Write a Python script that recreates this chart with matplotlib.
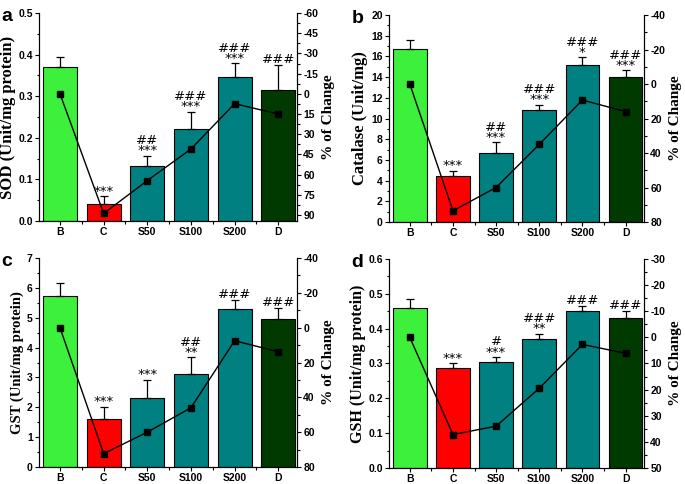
import numpy as np
import matplotlib
matplotlib.use("Agg")
import matplotlib.pyplot as plt
from matplotlib.ticker import MultipleLocator, FormatStrFormatter

plt.rcParams["axes.unicode_minus"] = False

groups = ["B", "C", "S50", "S100", "S200", "D"]
colors = ["#3cf03c", "#ff0000", "#008080", "#008080", "#008080", "#003a00"]

# panel a - SOD
sod = [0.37, 0.042, 0.133, 0.22, 0.345, 0.315]
sod_err = [0.024, 0.017, 0.023, 0.042, 0.034, 0.06]
sod_pct = [0, 88.8, 64.4, 41, 7.3, 15]
sod_marks = ["", "***", "##\n***", "###\n***", "###\n***", "###"]

# panel b - Catalase
cat = [16.7, 4.45, 6.7, 10.85, 15.15, 14.0]
cat_err = [0.9, 0.5, 1.0, 0.5, 0.75, 0.65]
cat_pct = [0, 73.5, 60, 35, 9.3, 16]
cat_marks = ["", "***", "##\n***", "###\n***", "###\n*", "###\n***"]

# panel c - GST
gst = [5.72, 1.6, 2.3, 3.1, 5.3, 4.95]
gst_err = [0.45, 0.42, 0.63, 0.57, 0.3, 0.38]
gst_pct = [0, 72.3, 60, 46, 7.5, 13.8]
gst_marks = ["", "***", "***", "##\n**", "###", "###"]

# panel d - GSH
gsh = [0.46, 0.288, 0.305, 0.37, 0.45, 0.432]
gsh_err = [0.025, 0.013, 0.013, 0.015, 0.015, 0.02]
gsh_pct = [0, 37.2, 34, 19.5, 2.7, 6.1]
gsh_marks = ["", "***", "#\n***", "###\n**", "###", "###"]

panels = [
    dict(letter="a", vals=sod, err=sod_err, pct=sod_pct, marks=sod_marks,
         ylabel="SOD (Unit/mg protein)", lsize=12, ylim=(0, 0.5), major=0.1, minor=0.05,
         rlim=(94.4, -60), rmajor=15, rminor=7.5, fmt="%.1f",
         pos=[0.057, 0.5434, 0.3766, 0.4297]),
    dict(letter="b", vals=cat, err=cat_err, pct=cat_pct, marks=cat_marks,
         ylabel="Catalase (Unit/mg)", lsize=12, ylim=(0, 20), major=2, minor=1,
         rlim=(80, -40), rmajor=20, rminor=10, fmt="%d",
         pos=[0.568, 0.5413, 0.3723, 0.4277]),
    dict(letter="c", vals=gst, err=gst_err, pct=gst_pct, marks=gst_marks,
         ylabel="GST (Unit/mg protein)", lsize=10.5, ylim=(0, 7), major=1, minor=0.5,
         rlim=(80, -40), rmajor=20, rminor=10, fmt="%d",
         pos=[0.057, 0.0351, 0.3766, 0.4318]),
    dict(letter="d", vals=gsh, err=gsh_err, pct=gsh_pct, marks=gsh_marks,
         ylabel="GSH (Unit/mg protein)", lsize=11.5, ylim=(0, 0.6), major=0.1, minor=0.05,
         rlim=(50, -30), rmajor=10, rminor=5, fmt="%.1f",
         pos=[0.568, 0.0331, 0.3723, 0.4318]),
]

fig = plt.figure(figsize=(6.85, 4.84), dpi=100)
x = np.arange(len(groups))

for p in panels:
    ax = fig.add_axes(p["pos"])
    ax.bar(x, p["vals"], width=0.78, color=colors, edgecolor="black", linewidth=0.8, zorder=2)
    ax.errorbar(x, p["vals"], yerr=[np.zeros(len(x)), p["err"]], fmt="none",
                ecolor="black", elinewidth=0.9, capsize=3, capthick=0.9, zorder=3)
    top = np.array(p["vals"]) + np.array(p["err"])
    for xi, yi, m in zip(x, top, p["marks"]):
        if m:
            ax.annotate(m, (xi, yi), xytext=(0, -1), textcoords="offset points",
                        ha="center", va="bottom", fontsize=9.5, linespacing=0.72,
                        family="DejaVu Sans")
    ax.set_xlim(-0.48, 5.43)
    ax.set_ylim(*p["ylim"])
    ax.set_xticks(x)
    ax.set_xticklabels(groups)
    ax.xaxis.set_minor_locator(MultipleLocator(0.5))
    ax.yaxis.set_major_locator(MultipleLocator(p["major"]))
    ax.yaxis.set_minor_locator(MultipleLocator(p["minor"]))
    ax.yaxis.set_major_formatter(FormatStrFormatter(p["fmt"]))
    ax.spines["top"].set_visible(False)
    ax.tick_params(axis="both", which="major", length=3, width=0.8, labelsize=7.5, pad=1.5)
    ax.tick_params(axis="x", which="major", pad=1)
    ax.tick_params(axis="both", which="minor", length=1.8, width=0.8)
    for lab in ax.get_xticklabels() + ax.get_yticklabels():
        lab.set_fontweight("bold")
        lab.set_family("Liberation Sans")
    ax.set_ylabel(p["ylabel"], family="Liberation Serif", fontweight="bold",
                  fontsize=p["lsize"], labelpad=2)

    ax2 = ax.twinx()
    ax2.plot(x, p["pct"], color="black", marker="s", markersize=4.5, linewidth=1, zorder=4)
    ax2.set_ylim(*p["rlim"])
    ax2.yaxis.set_major_locator(MultipleLocator(p["rmajor"]))
    ax2.yaxis.set_minor_locator(MultipleLocator(p["rminor"]))
    ax2.spines["top"].set_visible(False)
    ax2.tick_params(axis="y", which="major", length=3, width=0.8, labelsize=7.5, pad=1.5)
    ax2.tick_params(axis="y", which="minor", length=1.8, width=0.8)
    for lab in ax2.get_yticklabels():
        lab.set_fontweight("bold")
        lab.set_family("Liberation Sans")
    ax2.set_ylabel("% of Change", family="Liberation Serif", fontweight="bold", fontsize=11, labelpad=3)

    fig.text(p["pos"][0] - 0.055, p["pos"][1] + p["pos"][3] + 0.01, p["letter"],
             fontsize=14, fontweight="bold", family="Liberation Sans", va="top")

fig.savefig("out.png", dpi=100)
